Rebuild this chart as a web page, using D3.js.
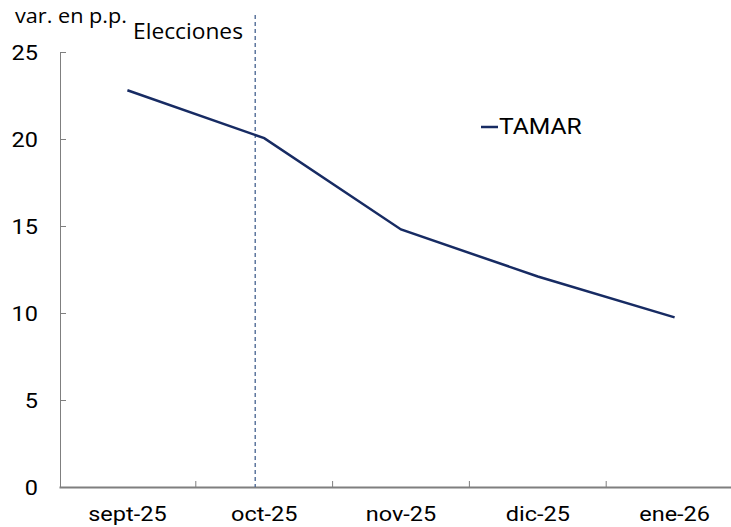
<!DOCTYPE html>
<html>
<head>
<meta charset="utf-8">
<script src="https://cdn.jsdelivr.net/npm/d3@7"></script>
<style>
  body { margin: 0; background: #fff; }
  text { font-family: Roboto, "Liberation Sans", sans-serif; }
</style>
</head>
<body>
<div id="chart"></div>
<script>
    // datos
    var months = ["sept-25", "oct-25", "nov-25", "dic-25", "ene-26"];
    var tamar = [22.8, 20.05, 14.8, 12.1, 9.75];
    var yTicks = [0, 5, 10, 15, 20, 25];
    var eventMonth = "oct-25";
    var eventLabel = "Elecciones";

    var width = 731, height = 527;
    var sx = 1.12; // el texto se ve algo estirado a lo ancho
    var svg = d3.select("#chart").append("svg").attr("width", width).attr("height", height);

    var x = d3.scaleBand().domain(months).range([59, 743]);
    var y = d3.scaleLinear().domain([0, 25]).range([487, 52]);
    var xc = function(d) { return x(d) + x.bandwidth() / 2; };

    // eje y
    var yAxis = svg.append("g").attr("transform", "translate(60,0)")
      .call(d3.axisRight(y).tickValues(yTicks).tickSize(6).tickFormat(d3.format("d")));
    yAxis.select(".domain").attr("stroke", "#7f7f7f").attr("stroke-width", 1);
    yAxis.selectAll(".tick line").attr("stroke", "#7f7f7f");
    yAxis.selectAll(".tick text").attr("x", -22 / sx).attr("text-anchor", "end")
      .attr("transform", "scale(" + sx + ",1)")
      .style("font-size", "21px").attr("fill", "#000").attr("dy", "0.36em");

    // eje x
    var xAxis = svg.append("g").attr("transform", "translate(0,487)")
      .call(d3.axisBottom(x).tickSize(0).tickPadding(19));
    xAxis.select(".domain").attr("stroke", "#7f7f7f").attr("stroke-width", 2);
    xAxis.selectAll(".tick text").style("font-size", "21px").attr("fill", "#000")
      .attr("transform", "scale(" + sx + ",1)");
    svg.append("g").selectAll("line")
      .data(months.slice(1)).enter().append("line")
      .attr("x1", function(d) { return x(d); }).attr("x2", function(d) { return x(d); })
      .attr("y1", 481).attr("y2", 487)
      .attr("stroke", "#7f7f7f");

    // linea de elecciones
    var ex = xc(eventMonth) - 9;
    svg.append("line")
      .attr("x1", ex).attr("x2", ex).attr("y1", 15).attr("y2", 487)
      .attr("stroke", "#44618f").attr("stroke-width", 1.3).attr("stroke-dasharray", "4,3");
    svg.append("text").attr("x", 133).attr("y", 39)
      .attr("textLength", 110).attr("lengthAdjust", "spacingAndGlyphs")
      .style("font-family", "'Open Sans', sans-serif").style("font-size", "21px").text(eventLabel);

    svg.append("text").attr("x", 15).attr("y", 23)
      .attr("textLength", 112).attr("lengthAdjust", "spacingAndGlyphs")
      .style("font-family", "'Open Sans', sans-serif").style("font-size", "20px").text("var. en p.p.");

    // serie
    var line = d3.line().x(function(d, i) { return xc(months[i]); }).y(function(d) { return y(d); });
    svg.append("path").datum(tamar).attr("d", line)
      .attr("fill", "none").attr("stroke", "#172b63").attr("stroke-width", 2.5);

    // leyenda
    svg.append("line").attr("x1", 481).attr("x2", 498).attr("y1", 127).attr("y2", 127)
      .attr("stroke", "#172b63").attr("stroke-width", 2.5);
    svg.append("text").attr("x", 499 / sx).attr("y", 134).attr("transform", "scale(" + sx + ",1)")
      .style("font-size", "22px").text("TAMAR");
</script>
</body>
</html>
